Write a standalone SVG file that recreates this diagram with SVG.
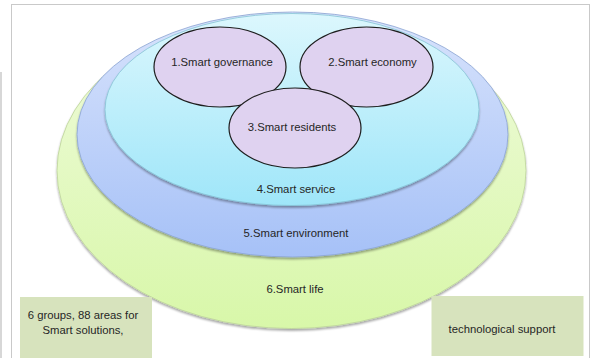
<svg xmlns="http://www.w3.org/2000/svg" width="596" height="358" viewBox="0 0 596 358">
<defs>
<linearGradient id="gGreen" x1="0" y1="0" x2="0" y2="1"><stop offset="0" stop-color="#f0fbdd"/><stop offset="1" stop-color="#d8f7a9"/></linearGradient>
<linearGradient id="gBlue" x1="0" y1="0" x2="0" y2="1"><stop offset="0" stop-color="#d8e3fc"/><stop offset="1" stop-color="#a6c1f7"/></linearGradient>
<linearGradient id="gCyan" x1="0" y1="0" x2="0" y2="1"><stop offset="0" stop-color="#dcf7fd"/><stop offset="1" stop-color="#9fe6f9"/></linearGradient>
<filter id="sh" x="-5%" y="-5%" width="110%" height="115%"><feGaussianBlur in="SourceAlpha" stdDeviation="1.2"/><feOffset dy="1.5"/><feComponentTransfer><feFuncA type="linear" slope="0.35"/></feComponentTransfer><feMerge><feMergeNode/><feMergeNode in="SourceGraphic"/></feMerge></filter>
</defs>
<style>
text{font-family:"Liberation Sans",Arial,sans-serif;font-size:11.3px;fill:#262626;text-anchor:middle}
.purple{fill:#dfd2f0;stroke:#1e1e1e;stroke-width:1.2}
.box{fill:#d7e3bd}
</style>
<rect x="0" y="0" width="596" height="358" fill="#ffffff"/>
<line x1="1" y1="72" x2="1" y2="358" stroke="#bdbdbd" stroke-width="1.2"/>
<rect x="11.5" y="4.5" width="578" height="420" fill="#ffffff" stroke="#c9c9c9" stroke-width="1"/>
<g id="layer6">
<ellipse cx="291.5" cy="170.5" rx="234.5" ry="158" fill="url(#gGreen)" stroke="#bcd39a" stroke-width="0.8" filter="url(#sh)"/>
<text x="295" y="292.5">6.Smart life</text>
</g>
<g id="layer5">
<ellipse cx="292.5" cy="134.5" rx="215.5" ry="122.5" fill="url(#gBlue)" stroke="#8aa3d3" stroke-width="0.8" filter="url(#sh)"/>
<text x="296" y="236.5">5.Smart environment</text>
</g>
<g id="layer4">
<ellipse cx="292" cy="109.5" rx="187" ry="96" fill="url(#gCyan)" stroke="#86c4d6" stroke-width="0.8" filter="url(#sh)"/>
<text x="296" y="192.5">4.Smart service</text>
</g>
<g id="node1">
<ellipse class="purple" cx="220" cy="67" rx="66" ry="40"/>
<text x="222" y="66">1.Smart governance</text>
</g>
<g id="node2">
<ellipse class="purple" cx="366.5" cy="67" rx="66.5" ry="40"/>
<text x="372.5" y="66">2.Smart economy</text>
</g>
<g id="node3">
<ellipse class="purple" cx="295" cy="128" rx="66" ry="40"/>
<text x="292" y="131">3.Smart residents</text>
</g>
<g id="boxLeft">
<rect class="box" x="20" y="297" width="132" height="61"/>
<text x="83" y="319">6 groups, 88 areas for</text>
<text x="83" y="333.5">Smart solutions,</text>
</g>
<g id="boxRight">
<rect class="box" x="431.5" y="296" width="152" height="60"/>
<text x="502" y="332.5">technological support</text>
</g>
<g id="connectors"></g>
</svg>
